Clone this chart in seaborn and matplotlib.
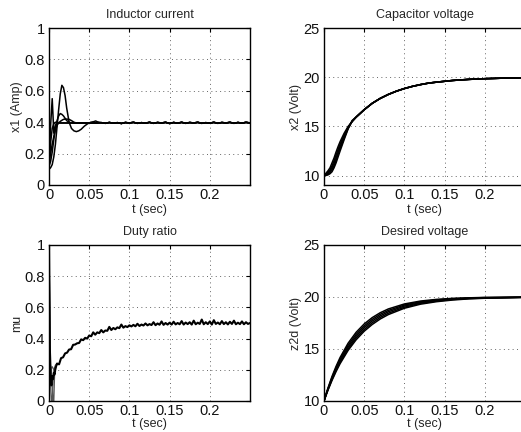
import matplotlib
matplotlib.use("Agg")
import matplotlib.pyplot as plt
import seaborn as sns
import pandas as pd

# ---------------- data ----------------
# Inductor current (5 runs): transient part, then a common settled tail
i_t = [0, 0.002, 0.004, 0.006, 0.008, 0.010, 0.012, 0.014, 0.016, 0.018, 0.020,
       0.022, 0.025, 0.028, 0.031, 0.034, 0.037, 0.040, 0.044, 0.048, 0.052,
       0.056, 0.058, 0.060]
i_run1 = [0.10, 0.38, 0.55, 0.33, 0.38, 0.40, 0.395, 0.395, 0.395, 0.395, 0.395,
          0.395, 0.395, 0.395, 0.395, 0.395, 0.395, 0.395, 0.395, 0.395, 0.395,
          0.395, 0.395, 0.395]
i_run2 = [0.10, 0.11, 0.13, 0.18, 0.26, 0.37, 0.48, 0.58, 0.635, 0.62, 0.57,
          0.49, 0.40, 0.36, 0.345, 0.34, 0.345, 0.355, 0.375, 0.39, 0.40,
          0.404, 0.408, 0.403]
i_run3 = [0.12, 0.15, 0.21, 0.29, 0.36, 0.41, 0.44, 0.455, 0.45, 0.44, 0.425,
          0.41, 0.40, 0.395, 0.395, 0.395, 0.395, 0.395, 0.395, 0.395, 0.395,
          0.395, 0.395, 0.395]
i_run4 = [0.15, 0.20, 0.26, 0.31, 0.35, 0.38, 0.395, 0.405, 0.412, 0.418, 0.42,
          0.42, 0.418, 0.41, 0.40, 0.395, 0.395, 0.395, 0.395, 0.395, 0.395,
          0.395, 0.395, 0.395]
i_run5 = [0.10, 0.27, 0.36, 0.39, 0.40, 0.398, 0.395, 0.395, 0.395, 0.395, 0.395,
          0.395, 0.395, 0.395, 0.395, 0.395, 0.395, 0.395, 0.395, 0.395, 0.395,
          0.395, 0.395, 0.395]
i_tail_t = [0.065, 0.07, 0.075, 0.08, 0.085, 0.09, 0.095, 0.10, 0.105, 0.11, 0.115,
            0.12, 0.125, 0.13, 0.135, 0.14, 0.145, 0.15, 0.155, 0.16, 0.165, 0.17,
            0.175, 0.18, 0.185, 0.19, 0.195, 0.20, 0.205, 0.21, 0.215, 0.22, 0.225,
            0.23, 0.235, 0.24, 0.245, 0.25]
i_tail_v = [0.397, 0.393, 0.398, 0.394, 0.397, 0.392, 0.398, 0.395, 0.399, 0.393,
            0.397, 0.394, 0.399, 0.393, 0.398, 0.395, 0.399, 0.392, 0.398, 0.394,
            0.399, 0.393, 0.398, 0.395, 0.399, 0.393, 0.397, 0.394, 0.399, 0.393,
            0.398, 0.395, 0.399, 0.393, 0.398, 0.394, 0.399, 0.395]

# Capacitor voltage (5 runs): early part differs, then a common tail
c_t = [0, 0.0025, 0.005, 0.0075, 0.01, 0.0125, 0.015, 0.0175, 0.02, 0.025, 0.03, 0.035, 0.04]
c_run1 = [10, 10.25, 10.5, 10.8, 11.3, 11.8, 12.4, 12.95, 13.45, 14.3, 15.0, 15.5, 15.95]
c_run2 = [10, 10.15, 10.35, 10.6, 11.0, 11.5, 12.1, 12.65, 13.2, 14.1, 14.9, 15.5, 15.95]
c_run3 = [10, 10.08, 10.25, 10.45, 10.8, 11.25, 11.8, 12.4, 12.95, 13.95, 14.85, 15.5, 15.95]
c_run4 = [10, 10.04, 10.15, 10.3, 10.6, 11.0, 11.55, 12.15, 12.75, 13.8, 14.8, 15.55, 15.95]
c_run5 = [10, 10.02, 10.08, 10.2, 10.4, 10.8, 11.3, 11.9, 12.5, 13.65, 14.75, 15.6, 15.95]
c_tail_t = [0.05, 0.06, 0.07, 0.08, 0.09, 0.10, 0.11, 0.12, 0.13, 0.14, 0.16, 0.18, 0.20, 0.225, 0.25]
c_tail_v = [16.7, 17.35, 17.85, 18.25, 18.58, 18.85, 19.07, 19.25, 19.4, 19.5, 19.67, 19.78, 19.85, 19.91, 19.95]

# Duty ratio
d_t0 = [0, 0.001, 0.002, 0.003, 0.004, 0.005, 0.006, 0.007, 0.008]
d_main0 = [1.0, 0.35, 0.15, 0.10, 0.16, 0.14, 0.18, 0.17, 0.21]
d_run2_t = [0, 0.001, 0.002, 0.003, 0.004, 0.005, 0.006, 0.008, 0.010]
d_run2 = [1.0, 0.50, 0.10, 0.0, 0.0, 0.12, 0.20, 0.23, 0.24]
d_run3_t = [0, 0.001, 0.003, 0.005, 0.006, 0.007, 0.009, 0.010]
d_run3 = [1.0, 0.25, 0.20, 0.0, 0.0, 0.18, 0.22, 0.24]
d_run4_t = [0, 0.002, 0.004, 0.006, 0.008, 0.010]
d_run4 = [1.0, 0.20, 0.22, 0.20, 0.21, 0.24]
d_t = [0.01 + 0.0025 * k for k in range(97)]
d_main = [0.24, 0.235, 0.275, 0.28, 0.305, 0.31, 0.33, 0.332, 0.36, 0.362,
          0.37, 0.372, 0.395, 0.39, 0.405, 0.40, 0.42, 0.415, 0.44, 0.425,
          0.44, 0.435, 0.455, 0.44, 0.452, 0.45, 0.475, 0.455, 0.468, 0.46,
          0.472, 0.467, 0.49, 0.47, 0.48, 0.474, 0.485, 0.478, 0.488, 0.479,
          0.495, 0.481, 0.49, 0.484, 0.497, 0.485, 0.493, 0.487, 0.505, 0.486,
          0.497, 0.489, 0.51, 0.488, 0.50, 0.49, 0.502, 0.49, 0.508, 0.491,
          0.50, 0.492, 0.512, 0.49, 0.503, 0.493, 0.505, 0.49, 0.515, 0.492,
          0.502, 0.494, 0.522, 0.492, 0.505, 0.493, 0.51, 0.49, 0.518, 0.494,
          0.503, 0.492, 0.512, 0.493, 0.505, 0.491, 0.508, 0.494, 0.515, 0.492,
          0.502, 0.493, 0.51, 0.492, 0.505, 0.494, 0.50]

# Desired voltage (5 runs)
z_t = [0, 0.0025, 0.005, 0.01, 0.015, 0.02, 0.03, 0.04, 0.05, 0.06, 0.07, 0.08,
       0.10, 0.12, 0.14, 0.16, 0.18, 0.20, 0.25]
z_run1 = [10, 10.65, 11.26, 12.37, 13.33, 14.18, 15.56, 16.61, 17.41, 18.02, 18.49, 18.85,
          19.33, 19.61, 19.77, 19.87, 19.92, 19.96, 19.99]
z_run2 = [10, 10.62, 11.20, 12.26, 13.19, 14.01, 15.37, 16.41, 17.22, 17.85, 18.34, 18.71,
          19.23, 19.54, 19.72, 19.83, 19.90, 19.94, 19.98]
z_run3 = [10, 10.59, 11.15, 12.16, 13.06, 13.86, 15.19, 16.23, 17.05, 17.69, 18.19, 18.58,
          19.13, 19.46, 19.67, 19.80, 19.88, 19.92, 19.98]
z_run4 = [10, 10.56, 11.10, 12.08, 12.95, 13.72, 15.02, 16.06, 16.87, 17.52, 18.04, 18.44,
          19.02, 19.39, 19.61, 19.76, 19.85, 19.90, 19.97]
z_run5 = [10, 10.54, 11.05, 11.99, 12.83, 13.59, 14.87, 15.89, 16.71, 17.36, 17.89, 18.31,
          18.92, 19.31, 19.55, 19.71, 19.82, 19.88, 19.96]

x_ticks = [0, 0.05, 0.1, 0.15, 0.2]
x_ticklabels = ["0", "0.05", "0.1", "0.15", "0.2"]
mu_ticks = [0, 0.2, 0.4, 0.6, 0.8, 1]
mu_ticklabels = ["0", "0.2", "0.4", "0.6", "0.8", "1"]
v_ticks = [10, 15, 20, 25]
titles = ["Inductor current", "Capacitor voltage", "Duty ratio", "Desired voltage"]
ylabels = ["x1 (Amp)", "x2 (Volt)", "mu", "z2d (Volt)"]
xlabel = "t (sec)"

# ---------------- build long tables ----------------
def long_df(pairs):
    rows = []
    for run, (ts, vs) in enumerate(pairs):
        for t, v in zip(ts, vs):
            rows.append((run, t, v))
    return pd.DataFrame(rows, columns=["run", "t", "v"])

df_i = long_df([(i_t + i_tail_t, r + i_tail_v) for r in (i_run1, i_run2, i_run3, i_run4, i_run5)])
df_c = long_df([(c_t + c_tail_t, r + c_tail_v) for r in (c_run1, c_run2, c_run3, c_run4, c_run5)])
df_d_main = long_df([(d_t0 + d_t, d_main0 + d_main)])
df_d_runs = long_df([(d_run2_t, d_run2), (d_run3_t, d_run3), (d_run4_t, d_run4)])
df_z = long_df([(z_t, r) for r in (z_run1, z_run2, z_run3, z_run4, z_run5)])

# ---------------- figure ----------------
sns.set_theme(style="white")
plt.rcParams["font.family"] = ["Liberation Sans", "DejaVu Sans"]

fig = plt.figure(figsize=(5.21, 4.32), dpi=100)
W, H = 521.0, 432.0
def place(x0, y0, x1, y1):
    return fig.add_axes([x0 / W, 1 - y1 / H, (x1 - x0) / W, (y1 - y0) / H])

ax_i = place(49, 28, 250, 185)
ax_c = place(324, 28, 525, 185)
ax_d = place(49, 245, 250, 401)
ax_z = place(324, 245, 525, 401)

lw = 1.1
sns.lineplot(data=df_i, x="t", y="v", units="run", estimator=None, color="black",
             lw=lw, ax=ax_i, sort=False)
sns.lineplot(data=df_c, x="t", y="v", units="run", estimator=None, color="black",
             lw=lw, ax=ax_c, sort=False)
sns.lineplot(data=df_d_runs, x="t", y="v", units="run", estimator=None, color="#555555",
             lw=0.9, ax=ax_d, sort=False)
sns.lineplot(data=df_d_main, x="t", y="v", units="run", estimator=None, color="black",
             lw=1.5, ax=ax_d, sort=False)
sns.lineplot(data=df_z, x="t", y="v", units="run", estimator=None, color="black",
             lw=lw, ax=ax_z, sort=False)

axes = [ax_i, ax_c, ax_d, ax_z]
ylims = [(0, 1), (9.05, 25), (0, 1), (10, 25)]
yticks = [(mu_ticks, mu_ticklabels), (v_ticks, [str(v) for v in v_ticks]),
          (mu_ticks, mu_ticklabels), (v_ticks, [str(v) for v in v_ticks])]
xpads = [1, 1, -0.5, -0.5]
for ax, title, yl, lim, (yt, ytl), xp in zip(axes, titles, ylabels, ylims, yticks, xpads):
    ax.set_xlim(0, 0.25)
    ax.set_ylim(*lim)
    ax.set_xticks(x_ticks)
    ax.set_xticklabels(x_ticklabels)
    ax.set_yticks(yt)
    ax.set_yticklabels(ytl)
    ax.set_title(title, fontsize=9, pad=7)
    ax.set_xlabel(xlabel, fontsize=9, labelpad=xp)
    ax.set_ylabel(yl, fontsize=9, labelpad=1)
    ax.tick_params(axis="both", labelsize=10.5, direction="in", length=3, width=0.8,
                   top=True, right=True, pad=3, color="black", labelcolor="#111111")
    ax.tick_params(axis="x", pad=2.5)
    ax.grid(True, color="#666666", linestyle=(0, (1, 3.5)), linewidth=0.7)
    for s in ax.spines.values():
        s.set_visible(True)
        s.set_color("black")
        s.set_linewidth(1.0)

fig.savefig("out.png", dpi=100)
